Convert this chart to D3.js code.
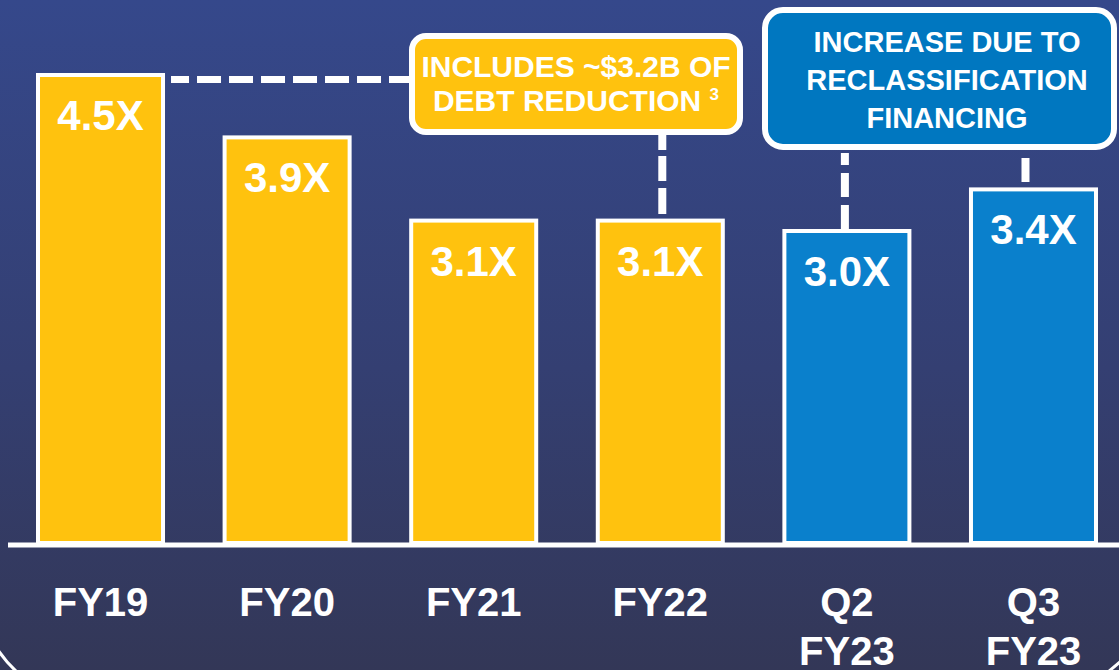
<!DOCTYPE html>
<html>
<head>
<meta charset="utf-8">
<script src="https://cdn.jsdelivr.net/npm/d3@7"></script>
<style>
  html, body { margin: 0; padding: 0; background: #343c6a; overflow: hidden; }
  text { font-family: 'Liberation Sans', Arial, sans-serif; font-weight: bold; fill: #fff; }
</style>
</head>
<body>
<div id="graf"></div>
<script>
// datos
const periodos = ['FY19', 'FY20', 'FY21', 'FY22', 'Q2 FY23', 'Q3 FY23']
const valores = [4.5, 3.9, 3.1, 3.1, 3.0, 3.4]
const etiquetas = ['4.5X', '3.9X', '3.1X', '3.1X', '3.0X', '3.4X']
const tipos = ['anual', 'anual', 'anual', 'anual', 'trim', 'trim']
const nota1 = ['INCLUDES ~$3.2B OF', 'DEBT REDUCTION']
const nota2 = ['INCREASE DUE TO', 'RECLASSIFICATION', 'FINANCING']

const anchoTotal = 1119
const altoTotal = 670
const base = 543

const svg = d3.select('#graf')
  .append('svg')
  .attr('width', anchoTotal)
  .attr('height', altoTotal)

// fondo
const defs = svg.append('defs')
const grad = defs.append('linearGradient')
  .attr('id', 'fondo')
  .attr('x1', 0).attr('y1', 0).attr('x2', 0).attr('y2', 1)
grad.append('stop').attr('offset', '0%').attr('stop-color', '#35488b')
grad.append('stop').attr('offset', '55%').attr('stop-color', '#343f72')
grad.append('stop').attr('offset', '100%').attr('stop-color', '#333757')

svg.append('rect')
  .attr('width', anchoTotal)
  .attr('height', altoTotal)
  .attr('fill', 'url(#fondo)')

// esquinas del marco
svg.append('path')
  .attr('d', 'M -2 650 Q 6 662 17 672')
  .attr('fill', 'none').attr('stroke', '#fff').attr('stroke-width', 3)
svg.append('path')
  .attr('d', 'M 1108 672 Q 1114 667 1121 661')
  .attr('fill', 'none').attr('stroke', '#fff').attr('stroke-width', 3)

const x = d3.scaleBand()
  .domain(periodos)
  .range([38, 1096])
  .paddingInner(0.33)
  .paddingOuter(0)

const y = d3.scaleLinear()
  .domain([0, 4.5])
  .range([base, 75])

const color = d3.scaleOrdinal()
  .domain(['anual', 'trim'])
  .range(['#ffc20e', '#0a80cc'])

const datos = periodos.map((p, i) => ({ p, v: valores[i], e: etiquetas[i], t: tipos[i] }))

const g = svg.append('g')

// barras
g.selectAll('rect.barra')
  .data(datos)
  .enter()
  .append('rect')
    .attr('class', 'barra')
    .attr('x', d => x(d.p))
    .attr('y', d => y(d.v))
    .attr('width', x.bandwidth())
    .attr('height', d => base - y(d.v))
    .attr('fill', d => color(d.t))
    .attr('stroke', '#fff')
    .attr('stroke-width', 4)

// valores
g.selectAll('text.valor')
  .data(datos)
  .enter()
  .append('text')
    .attr('class', 'valor')
    .attr('x', d => x(d.p) + x.bandwidth() / 2)
    .attr('y', d => y(d.v) + 55)
    .attr('text-anchor', 'middle')
    .attr('font-size', 42)
    .text(d => d.e)

// eje x
const xAxisGroup = svg.append('g')
  .attr('transform', `translate(0, ${base + 2})`)
  .call(d3.axisBottom(x).tickSize(0).tickFormat(''))
xAxisGroup.select('.domain')
  .attr('d', 'M8,0H1119')
  .attr('stroke', '#fff')
  .attr('stroke-width', 5)

xAxisGroup.selectAll('.tick')
  .each(function (d) {
    const partes = d.split(' ')
    const t = d3.select(this).append('text')
      .attr('text-anchor', 'middle')
      .attr('font-size', 40)
      .attr('y', 71)
    partes.forEach((s, i) => {
      t.append('tspan').attr('x', 0).attr('dy', i == 0 ? 0 : 49).text(s)
    })
  })

// notas
const centro = p => x(p) + x.bandwidth() / 2

const lineas = svg.append('g')
  .attr('stroke', '#fff')
  .attr('stroke-width', 7)
  .attr('fill', 'none')

lineas.append('line')
  .attr('x1', x('FY19') + x.bandwidth() + 8).attr('x2', 411)
  .attr('y1', y(4.5) + 4.5).attr('y2', y(4.5) + 4.5)
  .attr('stroke-dasharray', '18 8 24 8 24 8 24 8 24 8 24 8 24 8 24 8')
lineas.append('line')
  .attr('x1', centro('FY22') + 2).attr('x2', centro('FY22') + 2)
  .attr('y1', 132).attr('y2', y(3.1) - 3)
  .attr('stroke-width', 8)
  .attr('stroke-dasharray', '18 6 25 7 26 8')
lineas.append('line')
  .attr('x1', centro('Q2 FY23') - 2).attr('x2', centro('Q2 FY23') - 2)
  .attr('y1', 153).attr('y2', y(3.0) - 2)
  .attr('stroke-width', 8)
  .attr('stroke-dasharray', '12 8 24 8 24 8')
lineas.append('line')
  .attr('x1', centro('Q3 FY23') - 8).attr('x2', centro('Q3 FY23') - 8)
  .attr('y1', 158).attr('y2', 182)
  .attr('stroke-width', 8)

// caja 1
svg.append('rect')
  .attr('x', 412).attr('y', 36)
  .attr('width', 328).attr('height', 96)
  .attr('rx', 14)
  .attr('fill', '#ffc20e')
  .attr('stroke', '#fff')
  .attr('stroke-width', 6)

const t1 = svg.append('text')
  .attr('text-anchor', 'middle')
  .attr('font-size', 30)
t1.append('tspan').attr('x', 576).attr('y', 77).text(nota1[0])
const l2 = t1.append('tspan').attr('x', 576).attr('y', 111)
l2.append('tspan').text(nota1[1] + ' ')
l2.append('tspan').attr('font-size', 17).attr('dy', -11).text('3')

// caja 2
svg.append('rect')
  .attr('x', 765).attr('y', 10)
  .attr('width', 349).attr('height', 137)
  .attr('rx', 18)
  .attr('fill', '#0077c0')
  .attr('stroke', '#fff')
  .attr('stroke-width', 6)

svg.append('text')
  .attr('text-anchor', 'middle')
  .attr('font-size', 29)
  .selectAll('tspan')
  .data(nota2)
  .enter()
  .append('tspan')
    .attr('x', 947)
    .attr('y', (d, i) => 52 + i * 38)
    .text(d => d)
</script>
</body>
</html>
